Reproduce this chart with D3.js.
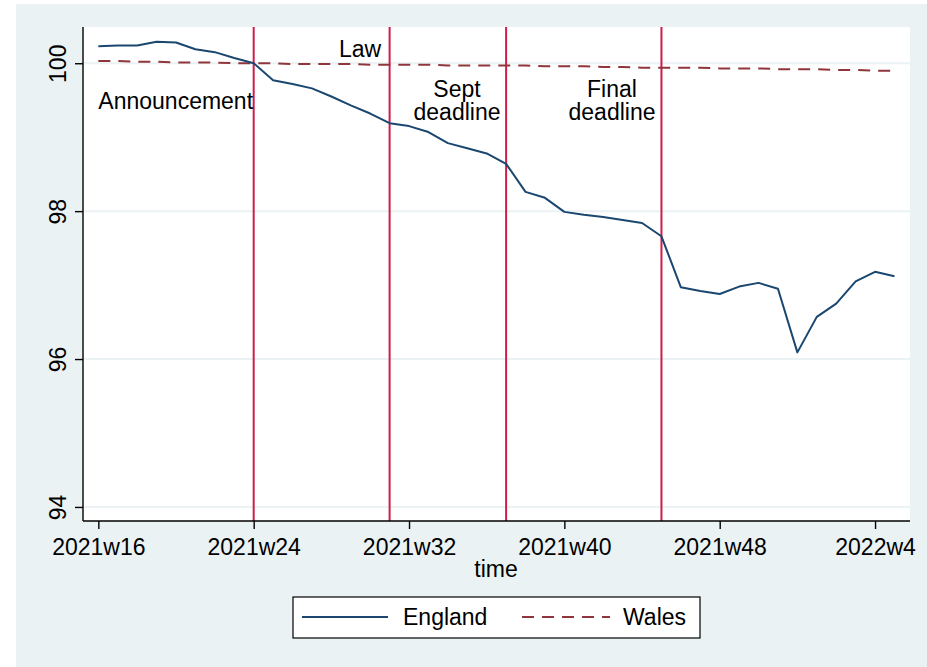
<!DOCTYPE html>
<html>
<head>
<meta charset="utf-8">
<script src="https://cdn.jsdelivr.net/npm/d3@7"></script>
<style>
  body { margin: 0; background: #fff; }
  svg text { font-family: "Liberation Sans", Arial, sans-serif; fill: #000; }
</style>
</head>
<body>
<script>
"use strict";

// weeks since 2021w16 (Stata weekly dates, 52 weeks per year)
const weeks = d3.range(0, 42);
const england = [100.23, 100.24, 100.24, 100.29, 100.28, 100.19, 100.15, 100.07, 100.00, 99.77,
    99.72, 99.66, 99.55, 99.43, 99.32, 99.19, 99.15, 99.07, 98.92, 98.85,
    98.78, 98.64, 98.26, 98.18, 97.99, 97.95, 97.92, 97.88, 97.84, 97.66,
    96.97, 96.92, 96.88, 96.98, 97.03, 96.95, 96.09, 96.57, 96.75, 97.05,
    97.18, 97.12];
const wales = [100.03, 100.03, 100.02, 100.02, 100.01, 100.01, 100.01, 100.00, 100.00, 100.00,
    99.99, 99.99, 99.99, 99.99, 99.98, 99.98, 99.98, 99.98, 99.97, 99.97,
    99.97, 99.97, 99.97, 99.96, 99.96, 99.96, 99.95, 99.95, 99.94, 99.94,
    99.94, 99.94, 99.93, 99.93, 99.93, 99.92, 99.92, 99.92, 99.91, 99.91,
    99.90, 99.90];
const xTicks = [0, 8, 16, 24, 32, 40];
const xTickLabels = ["2021w16", "2021w24", "2021w32", "2021w40", "2021w48", "2022w4"];
const yTicks = [94, 96, 98, 100];
const eventWeeks = [8, 15, 21, 29];
const eventLabels = [["Announcement"], ["Law"], ["Sept", "deadline"], ["Final", "deadline"]];
const seriesNames = ["England", "Wales"];

const W = 927, H = 667;
const plot = {left: 83, right: 910, top: 27, bottom: 521};
const fontSize = "23px";

const svg = d3.select("body").append("svg")
    .attr("width", W)
    .attr("height", H);

// outer background
svg.append("rect")
    .attr("x", 16).attr("y", 4)
    .attr("width", W - 16).attr("height", H - 4)
    .attr("fill", "#eaf2f3");

// plot region
svg.append("rect")
    .attr("x", plot.left).attr("y", plot.top)
    .attr("width", plot.right - plot.left).attr("height", plot.bottom - plot.top)
    .attr("fill", "#fff");

const xScale = d3.scaleLinear()
    .domain([-0.79, 41.8])
    .range([plot.left, plot.right]);

const yScale = d3.scaleLinear()
    .domain([93.81, 100.49])
    .range([plot.bottom, plot.top]);

// gridlines
svg.append("g").selectAll("line").data(yTicks)
    .enter().append("line")
    .attr("x1", plot.left).attr("x2", plot.right)
    .attr("y1", d => yScale(d)).attr("y2", d => yScale(d))
    .attr("stroke", "#eaf2f3")
    .attr("stroke-width", 2);

// event lines
svg.append("g").selectAll("line").data(eventWeeks)
    .enter().append("line")
    .attr("x1", d => xScale(d)).attr("x2", d => xScale(d))
    .attr("y1", plot.top).attr("y2", plot.bottom)
    .attr("stroke", "#d01c4b")
    .attr("stroke-width", 2);

// series
const line = d3.line()
    .x((d, i) => xScale(weeks[i]))
    .y(d => yScale(d));

svg.append("path")
    .datum(wales)
    .attr("d", line)
    .attr("fill", "none")
    .attr("stroke", "#90353b")
    .attr("stroke-width", 2)
    .attr("stroke-dasharray", "12,8");

svg.append("path")
    .datum(england)
    .attr("d", line)
    .attr("fill", "none")
    .attr("stroke", "#1a476f")
    .attr("stroke-width", 2)
    .attr("stroke-linejoin", "round");

// event labels
const labelPos = [
    {anchor: "start", x: xScale(0), y: 109},
    {anchor: "middle", x: 360, y: 57},
    {anchor: "middle", x: 457, y: 97},
    {anchor: "middle", x: 612, y: 97}
];
eventLabels.forEach((lines, i) => {
    const t = svg.append("text")
        .attr("x", labelPos[i].x)
        .attr("y", labelPos[i].y)
        .attr("text-anchor", labelPos[i].anchor)
        .style("font-size", fontSize);
    lines.forEach((s, j) => {
        t.append("tspan")
            .attr("x", labelPos[i].x)
            .attr("dy", j === 0 ? 0 : 23)
            .text(s);
    });
});

// x axis
const xAxis = svg.append("g")
    .attr("transform", "translate(0," + plot.bottom + ")")
    .call(d3.axisBottom(xScale)
        .tickValues(xTicks)
        .tickFormat((d, i) => xTickLabels[i])
        .tickSize(8)
        .tickSizeOuter(0));
xAxis.select(".domain").attr("stroke", "#000").attr("stroke-width", 1.4)
    .attr("d", "M" + plot.left + ",0H" + plot.right);
xAxis.selectAll(".tick line").attr("stroke", "#000").attr("stroke-width", 1.4);
xAxis.selectAll(".tick text")
    .attr("y", 34)
    .attr("dy", 0)
    .style("font-size", fontSize)
    .style("font-family", "'Liberation Sans', Arial, sans-serif");

svg.append("text")
    .attr("x", 496).attr("y", 577)
    .attr("text-anchor", "middle")
    .style("font-size", fontSize)
    .text("time");

// y axis
const yAxis = svg.append("g")
    .attr("transform", "translate(" + plot.left + ",0)")
    .call(d3.axisLeft(yScale)
        .tickValues(yTicks)
        .tickFormat(d3.format("d"))
        .tickSize(8)
        .tickSizeOuter(0));
yAxis.select(".domain").attr("stroke", "#000").attr("stroke-width", 1.4)
    .attr("d", "M0," + plot.top + "V" + plot.bottom);
yAxis.selectAll(".tick line").attr("stroke", "#000").attr("stroke-width", 1.4);
yAxis.selectAll(".tick text")
    .attr("x", 0).attr("dy", 0)
    .attr("transform", "translate(-17,0) rotate(-90)")
    .attr("text-anchor", "middle")
    .style("font-size", fontSize)
    .style("font-family", "'Liberation Sans', Arial, sans-serif");

// legend
const legend = svg.append("g");
legend.append("rect")
    .attr("x", 293).attr("y", 597)
    .attr("width", 407).attr("height", 41)
    .attr("fill", "#fff")
    .attr("stroke", "#000")
    .attr("stroke-width", 1.2);
const legendItems = [
    {x1: 302, x2: 388, tx: 403, color: "#1a476f", dash: null},
    {x1: 522, x2: 610, tx: 623, color: "#90353b", dash: "12,8"}
];
seriesNames.forEach((name, i) => {
    const it = legendItems[i];
    legend.append("line")
        .attr("x1", it.x1).attr("x2", it.x2)
        .attr("y1", 617).attr("y2", 617)
        .attr("stroke", it.color)
        .attr("stroke-width", 2)
        .attr("stroke-dasharray", it.dash);
    legend.append("text")
        .attr("x", it.tx).attr("y", 625)
        .style("font-size", fontSize)
        .text(name);
});
</script>
</body>
</html>
